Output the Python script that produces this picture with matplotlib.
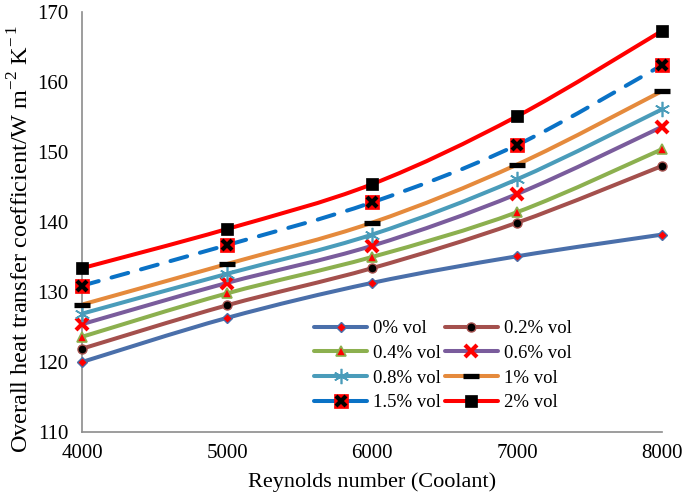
import matplotlib
matplotlib.use("Agg")
import matplotlib.pyplot as plt
import numpy as np
from matplotlib.path import Path
from matplotlib.patches import PathPatch
from matplotlib.lines import Line2D
from matplotlib.legend_handler import HandlerTuple

plt.rcParams['font.family'] = ['Liberation Serif', 'DejaVu Serif']
plt.rcParams['mathtext.fontset'] = 'custom'
plt.rcParams['mathtext.rm'] = 'Liberation Serif'

reynolds = [4000, 5000, 6000, 7000, 8000]
labels = ['0% vol', '0.2% vol', '0.4% vol', '0.6% vol', '0.8% vol', '1% vol', '1.5% vol', '2% vol']
u_0 = [120.0, 126.3, 131.3, 135.1, 138.2]
u_02 = [121.9, 128.1, 133.4, 139.9, 148.0]
u_04 = [123.6, 129.8, 135.0, 141.4, 150.4]
u_06 = [125.4, 131.3, 136.6, 144.0, 153.6]
u_08 = [126.9, 132.6, 138.2, 146.1, 156.1]
u_1 = [128.2, 134.0, 139.9, 148.2, 158.7]
u_15 = [130.9, 136.7, 142.8, 151.0, 162.4]
u_2 = [133.4, 139.0, 145.4, 155.1, 167.3]
series = [u_0, u_02, u_04, u_06, u_08, u_1, u_15, u_2]

colors = ['#4A6FAA', '#A4504D', '#8CB04F', '#7A5C9C', '#4A9CBA', '#E58A3C', '#0A72C6', '#FF0000']

fig = plt.figure(figsize=(6.85, 4.99), dpi=100)
ax = fig.add_axes([82/685, 1-432/499, (662-82)/685, (432-12)/499])


def smooth_path(xs, ys):
    xs = np.asarray(xs, float); ys = np.asarray(ys, float)
    pts = np.column_stack([xs, ys])
    n = len(pts)
    verts = [pts[0]]
    codes = [Path.MOVETO]
    for i in range(n - 1):
        p0 = pts[i - 1] if i > 0 else pts[i]
        p1 = pts[i]
        p2 = pts[i + 1]
        p3 = pts[i + 2] if i + 2 < n else pts[i + 1]
        c1 = p1 + (p2 - p0) / 6.0
        c2 = p2 - (p3 - p1) / 6.0
        verts += [c1, c2, p2]
        codes += [Path.CURVE4] * 3
    return Path(verts, codes)

lw = 2.9
for i, (ys, c) in enumerate(zip(series, colors)):
    ls = (0, (4.3, 3.3)) if i == 6 else '-'
    patch = PathPatch(smooth_path(reynolds, ys), facecolor='none', edgecolor=c,
                      lw=lw, linestyle=ls, capstyle='round', joinstyle='round', zorder=2)
    ax.add_patch(patch)

# marker styles
asterisk = (6, 2, 0)
mk = [
    dict(marker='D', ms=5.5, mfc='red', mec=colors[0], mew=1.0),
    dict(marker='o', ms=6.5, mfc='black', mec=colors[1], mew=1.0),
    dict(marker='^', ms=7.5, mfc='red', mec=colors[2], mew=1.2),
    dict(marker='x', ms=8.5, mfc='red', mec='red', mew=3.0),
    dict(marker=asterisk, ms=11, mfc=colors[4], mec=colors[4], mew=1.2),
    dict(marker='_', ms=12, mfc='black', mec='black', mew=3.8),
    dict(marker='s', ms=10.5, mfc='red', mec='red', mew=0.5),
    dict(marker='s', ms=8.5, mfc='black', mec='black', mew=0.5),
]
for i, ys in enumerate(series):
    ax.plot(reynolds, ys, linestyle='none', zorder=3, clip_on=False, **mk[i])
    if i == 6:
        ax.plot(reynolds, ys, linestyle='none', marker='x', ms=7.5, mec='black', mew=3.0,
                zorder=4, clip_on=False)

handles = []
for i in range(len(series)):
    h = Line2D([], [], color=colors[i], lw=lw, linestyle='-', solid_capstyle='round', **mk[i])
    if i == 6:
        hx = Line2D([], [], linestyle='none', marker='x', ms=7.5, mec='black', mew=3.0)
        handles.append((h, hx))
    else:
        handles.append(h)

order = [0, 2, 4, 6, 1, 3, 5, 7]
leg = ax.legend([handles[k] for k in order], [labels[k] for k in order], ncol=2,
                loc='center', bbox_to_anchor=(0.622, 0.158), frameon=False,
                fontsize=13.5, handlelength=2.85, handletextpad=0.3, columnspacing=0.2,
                labelspacing=0.4, borderpad=0,
                handler_map={tuple: HandlerTuple(ndivide=1, pad=0)})

ax.set_xlim(4000, 8000)
ax.set_ylim(110, 170)
ax.set_xticks(reynolds)
ax.set_yticks(np.arange(110, 171, 10))
ax.tick_params(length=0, labelsize=15)
ax.tick_params(axis='y', pad=10)
ax.tick_params(axis='x', pad=9)
for s in ['top', 'right']:
    ax.spines[s].set_visible(False)
for s in ['left', 'bottom']:
    ax.spines[s].set_color('#8C8C8C')
    ax.spines[s].set_linewidth(1.2)
ax.set_xlabel('Reynolds number (Coolant)', fontsize=16, labelpad=6)
ax.set_ylabel('Overall heat transfer coefficient/W m$^{-2}$ K$^{-\\,1}$', fontsize=17.5)
ax.yaxis.set_label_coords(-0.083, 0.46)

fig.savefig('out.png', dpi=100)
